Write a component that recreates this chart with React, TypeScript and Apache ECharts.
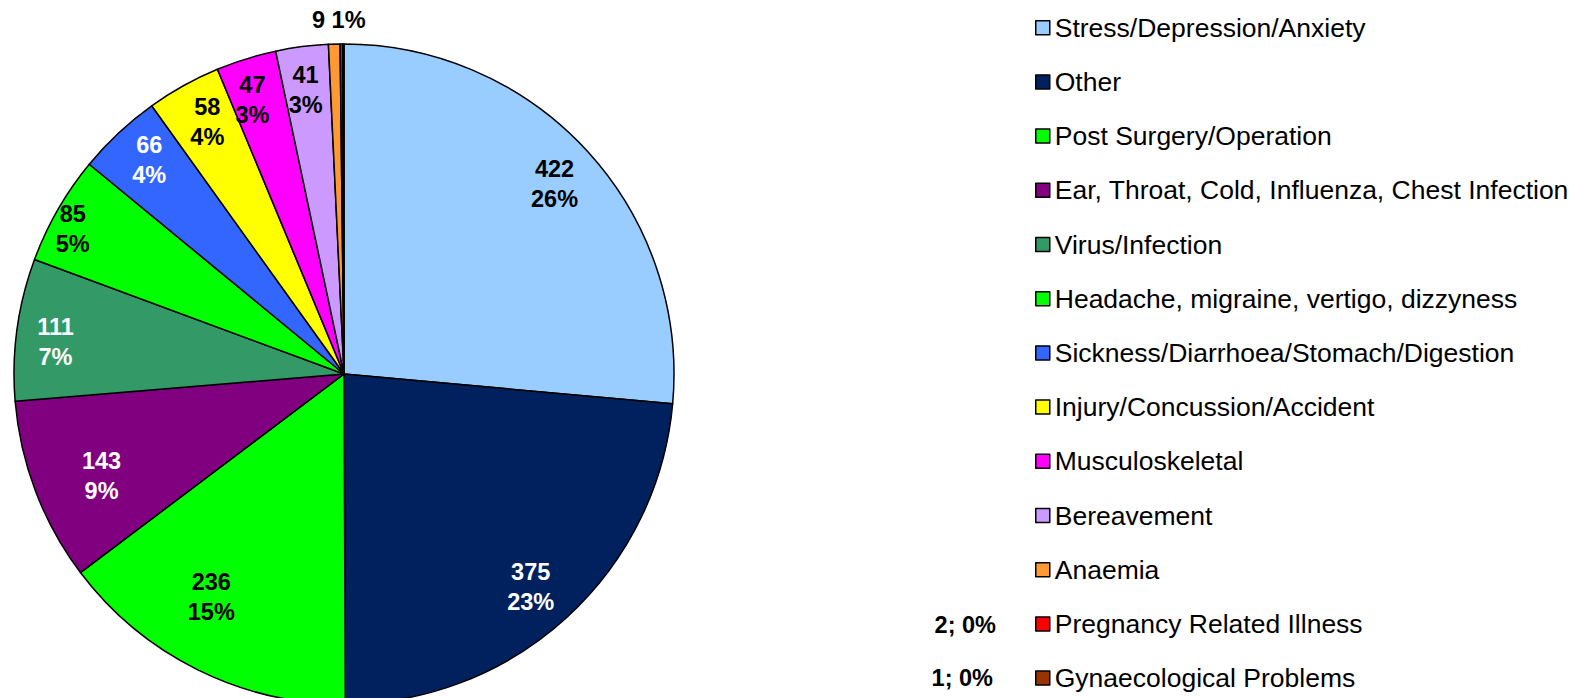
import React, { useEffect, useRef } from "react";
import * as echarts from "echarts";

const categories = [
  "Stress/Depression/Anxiety",
  "Other",
  "Post Surgery/Operation",
  "Ear, Throat, Cold, Influenza, Chest Infection",
  "Virus/Infection",
  "Headache, migraine, vertigo, dizzyness",
  "Sickness/Diarrhoea/Stomach/Digestion",
  "Injury/Concussion/Accident",
  "Musculoskeletal",
  "Bereavement",
  "Anaemia",
  "Pregnancy Related Illness",
  "Gynaecological Problems",
];
const values = [422, 375, 236, 143, 111, 85, 66, 58, 47, 41, 9, 2, 1];
const colors = [
  "#99CCFF", "#00215E", "#00FF00", "#800080", "#339966", "#00FF00", "#3366FF",
  "#FFFF00", "#FF00FF", "#CC99FF", "#FF9933", "#FF0000", "#993300",
];
const labelColors = [
  "#000", "#fff", "#000", "#fff", "#fff", "#000", "#fff", "#000", "#000", "#000", "#000", "#000", "#000",
];
// slices whose labels are drawn inside the pie
const insideLabel = [true, true, true, true, true, true, true, true, true, true, false, false, false];
// small label nudges (px) to mimic the original "best fit" placement
const labelNudge = [
  [0, 2], [-6, 3], [-6, -32], [24, 0], [-6, 7], [-24, -3], [0, -6], [2, -3], [-7, -2], [-2, -1], [0, 0], [0, 0], [0, 0],
];

const FONT = "'Liberation Sans', Arial, Helvetica, sans-serif";

export default function App() {
  const ref = useRef<HTMLDivElement>(null);
  useEffect(() => {
    if (!ref.current) return;
    const chart = echarts.init(ref.current, null, { renderer: "svg" });
    const total = values.reduce((a, b) => a + b, 0);
    const pct = (v: number) => Math.round((v / total) * 100);
    const cx = 344, cy = 374, R = 330;

    const mainData = categories.map((name, i) => ({
      name,
      value: values[i],
      itemStyle: { color: colors[i] },
    }));
    const labelData = categories.map((name, i) => ({
      name,
      value: values[i],
      label: {
        show: insideLabel[i],
        color: labelColors[i],
        offset: labelNudge[i],
        formatter: () => `${values[i]}\n${pct(values[i])}%`,
      },
    }));

    const labelText = (i: number, sep: string) => `${values[i]}${sep}${pct(values[i])}%`;

    chart.setOption({
      animation: false,
      backgroundColor: "#fff",
      legend: {
        orient: "vertical",
        left: 1030,
        top: 9.2,
        height: 690,
        icon: "rect",
        itemWidth: 14,
        itemHeight: 14,
        itemGap: 27.2,
        selectedMode: false,
        data: categories,
        itemStyle: { borderColor: "#000", borderWidth: 1.5 },
        textStyle: { fontFamily: FONT, fontSize: 26.5, lineHeight: 26, color: "#000" },
      },
      series: [
        {
          type: "pie",
          center: [cx, cy],
          radius: [0, R],
          startAngle: 90,
          clockwise: true,
          silent: true,
          label: { show: false },
          labelLine: { show: false },
          itemStyle: { borderColor: "#000", borderWidth: 1.5 },
          data: mainData,
        },
        {
          type: "pie",
          center: [cx, cy],
          radius: [R * 0.71, R],
          startAngle: 90,
          clockwise: true,
          silent: true,
          legendHoverLink: false,
          itemStyle: { color: "rgba(0,0,0,0)", borderWidth: 0 },
          label: {
            position: "inside",
            fontFamily: FONT,
            fontWeight: "bold",
            fontSize: 23.5,
            lineHeight: 30,
            align: "center",
          },
          labelLine: { show: false },
          data: labelData,
        },
      ],
      graphic: [
        {
          type: "text",
          left: 342 - 30,
          top: 8,
          style: { text: labelText(10, " "), font: `bold 23.5px ${FONT}`, fill: "#000" },
        },
        {
          type: "text",
          right: 1590 - 996,
          top: 613,
          style: { text: labelText(11, "; "), font: `bold 23.5px ${FONT}`, fill: "#000" },
        },
        {
          type: "text",
          right: 1590 - 993,
          top: 666,
          style: { text: labelText(12, "; "), font: `bold 23.5px ${FONT}`, fill: "#000" },
        },
      ],
    });
    return () => chart.dispose();
  }, []);
  return (
    <div
      ref={ref}
      style={{ position: "fixed", left: 0, top: 0, width: 1590, height: 698, background: "#fff" }}
    />
  );
}
